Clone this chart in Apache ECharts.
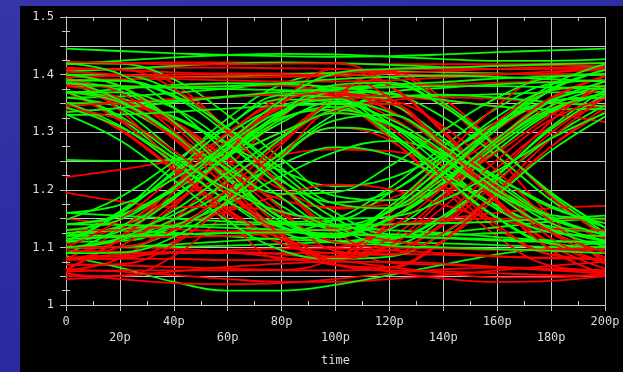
<!DOCTYPE html>
<html>
<head>
<meta charset="utf-8">
<script src="https://cdn.jsdelivr.net/npm/echarts@6/dist/echarts.min.js"></script>
<style>
html,body{margin:0;padding:0;width:623px;height:372px;overflow:hidden;
  background:linear-gradient(160deg,#3636a8 0%,#2b2ba3 50%,#24249c 100%);}
#chart{position:absolute;left:20px;top:6px;width:603px;height:366px;background:#000;}
</style>
</head>
<body>
<div id="chart"></div>
<script>
// sample times (ps)
const times = [0, 20, 40, 60, 80, 100, 120, 140, 160, 180, 200];
const xTickLabels = ['0','20p','40p','60p','80p','100p','120p','140p','160p','180p','200p'];
const yTickLabels = ['1','1.1','1.2','1.3','1.4','1.5'];

const greenTraces = [
[1.370,1.352,1.298,1.223,1.152,1.109,1.131,1.193,1.269,1.334,1.368],
[1.120,1.137,1.189,1.261,1.330,1.371,1.351,1.290,1.217,1.154,1.122],
[1.371,1.324,1.253,1.179,1.126,1.110,1.109,1.107,1.104,1.101,1.100],
[1.100,1.101,1.128,1.190,1.266,1.332,1.369,1.377,1.383,1.387,1.390],
[1.360,1.362,1.368,1.376,1.384,1.370,1.315,1.240,1.170,1.126,1.120],
[1.130,1.129,1.125,1.119,1.114,1.111,1.114,1.152,1.218,1.291,1.347],
[1.350,1.350,1.327,1.277,1.215,1.178,1.196,1.258,1.318,1.354,1.360],
[1.110,1.162,1.242,1.324,1.383,1.400,1.395,1.351,1.276,1.191,1.126],
[1.445,1.441,1.437,1.434,1.432,1.431,1.432,1.435,1.439,1.442,1.445],
[1.418,1.424,1.430,1.434,1.436,1.435,1.431,1.427,1.424,1.424,1.427],
[1.405,1.410,1.415,1.419,1.421,1.420,1.417,1.413,1.410,1.411,1.415],
[1.400,1.398,1.396,1.397,1.400,1.403,1.405,1.404,1.402,1.400,1.401],
[1.085,1.065,1.040,1.025,1.025,1.035,1.052,1.070,1.088,1.100,1.108],
[1.100,1.100,1.101,1.103,1.106,1.110,1.116,1.125,1.135,1.145,1.150],
[1.390,1.342,1.268,1.191,1.136,1.121,1.149,1.210,1.283,1.346,1.378],
[1.110,1.111,1.136,1.193,1.263,1.308,1.294,1.232,1.172,1.136,1.130],
[1.390,1.372,1.318,1.243,1.172,1.128,1.119,1.117,1.114,1.111,1.110],
[1.119,1.162,1.228,1.297,1.346,1.360,1.361,1.363,1.366,1.369,1.370],
[1.380,1.379,1.377,1.375,1.373,1.371,1.366,1.326,1.258,1.182,1.123],
[1.120,1.121,1.123,1.125,1.127,1.149,1.203,1.275,1.342,1.384,1.390],
[1.360,1.343,1.291,1.219,1.150,1.108,1.105,1.149,1.224,1.309,1.374],
[1.120,1.136,1.187,1.256,1.322,1.344,1.295,1.220,1.150,1.106,1.100],
[1.420,1.419,1.392,1.330,1.254,1.189,1.182,1.240,1.313,1.376,1.408],
[1.089,1.134,1.203,1.274,1.325,1.339,1.315,1.264,1.202,1.149,1.122],
[1.370,1.359,1.325,1.278,1.233,1.206,1.220,1.262,1.313,1.356,1.379],
[1.100,1.112,1.148,1.198,1.245,1.274,1.261,1.221,1.173,1.132,1.111],
[1.371,1.328,1.262,1.193,1.144,1.147,1.194,1.258,1.318,1.354,1.360],
[1.130,1.131,1.157,1.216,1.289,1.353,1.383,1.345,1.274,1.195,1.134],
[1.350,1.351,1.355,1.361,1.366,1.369,1.338,1.273,1.194,1.127,1.092],
[1.100,1.101,1.105,1.111,1.116,1.119,1.148,1.206,1.277,1.337,1.368],
[1.400,1.399,1.371,1.307,1.228,1.160,1.123,1.122,1.125,1.128,1.130],
[1.140,1.156,1.204,1.270,1.333,1.373,1.382,1.387,1.393,1.397,1.400],
[1.368,1.375,1.382,1.385,1.384,1.378,1.368,1.356,1.345,1.340,1.340],
[1.125,1.130,1.136,1.140,1.140,1.136,1.130,1.125,1.118,1.112,1.106],
[1.252,1.250,1.252,1.262,1.300,1.340,1.360,1.365,1.360,1.352,1.345],
[1.331,1.286,1.217,1.146,1.095,1.080,1.084,1.124,1.192,1.268,1.327],
[1.140,1.154,1.199,1.259,1.317,1.353,1.335,1.284,1.222,1.169,1.142],
[1.390,1.389,1.361,1.297,1.218,1.150,1.117,1.155,1.226,1.305,1.366],
[1.110,1.158,1.232,1.309,1.364,1.360,1.302,1.224,1.152,1.107,1.100],
[1.335,1.342,1.352,1.362,1.370,1.375,1.378,1.380,1.380,1.378,1.375],
[1.160,1.155,1.150,1.145,1.142,1.140,1.140,1.142,1.145,1.150,1.155],
[1.393,1.355,1.296,1.236,1.193,1.196,1.241,1.303,1.360,1.395,1.400],
[1.120,1.120,1.138,1.176,1.224,1.266,1.285,1.262,1.220,1.172,1.135],
[1.370,1.352,1.296,1.218,1.144,1.117,1.165,1.240,1.310,1.354,1.360],
[1.390,1.390,1.364,1.307,1.237,1.176,1.168,1.219,1.284,1.340,1.368],
[1.110,1.128,1.184,1.262,1.336,1.382,1.386,1.345,1.274,1.195,1.134],
[1.352,1.311,1.247,1.181,1.134,1.121,1.151,1.213,1.289,1.354,1.388],
[1.148,1.187,1.249,1.312,1.357,1.352,1.300,1.231,1.166,1.126,1.120],
[1.330,1.331,1.335,1.341,1.346,1.349,1.323,1.267,1.200,1.142,1.112],
[1.140,1.139,1.137,1.134,1.131,1.130,1.162,1.227,1.306,1.373,1.408],
[1.370,1.369,1.342,1.280,1.204,1.138,1.103,1.100,1.097,1.094,1.090],
[1.130,1.148,1.204,1.282,1.356,1.402,1.410,1.412,1.415,1.418,1.420],
[1.400,1.380,1.318,1.232,1.150,1.120,1.171,1.252,1.327,1.373,1.380],
[1.090,1.091,1.118,1.180,1.256,1.321,1.330,1.277,1.210,1.152,1.122],
[1.343,1.309,1.256,1.201,1.162,1.150,1.153,1.182,1.233,1.289,1.333],
[1.160,1.174,1.219,1.279,1.337,1.357,1.316,1.252,1.192,1.156,1.150],
[1.385,1.380,1.378,1.380,1.385,1.392,1.396,1.398,1.396,1.392,1.388],
[1.115,1.118,1.122,1.125,1.126,1.124,1.120,1.116,1.112,1.110,1.110],
[1.420,1.401,1.343,1.263,1.186,1.138,1.163,1.230,1.312,1.382,1.418],
[1.100,1.116,1.164,1.230,1.293,1.333,1.313,1.257,1.190,1.132,1.102]
];

const redTraces = [
[1.400,1.379,1.312,1.221,1.134,1.081,1.107,1.184,1.277,1.356,1.397],
[1.060,1.081,1.148,1.239,1.326,1.379,1.353,1.276,1.183,1.104,1.063],
[1.420,1.419,1.384,1.304,1.205,1.120,1.073,1.070,1.066,1.063,1.060],
[1.061,1.118,1.206,1.296,1.361,1.380,1.381,1.383,1.386,1.388,1.390],
[1.408,1.410,1.412,1.412,1.411,1.410,1.404,1.350,1.257,1.153,1.072],
[1.070,1.069,1.066,1.063,1.061,1.082,1.144,1.227,1.305,1.353,1.360],
[1.370,1.320,1.243,1.164,1.107,1.090,1.095,1.139,1.214,1.299,1.364],
[1.080,1.081,1.110,1.176,1.258,1.308,1.286,1.208,1.133,1.087,1.080],
[1.370,1.356,1.314,1.256,1.201,1.167,1.184,1.232,1.292,1.342,1.368],
[1.106,1.135,1.180,1.227,1.260,1.270,1.267,1.242,1.200,1.152,1.115],
[1.420,1.420,1.421,1.421,1.420,1.419,1.418,1.418,1.418,1.419,1.420],
[1.412,1.408,1.404,1.402,1.402,1.404,1.408,1.412,1.415,1.416,1.415],
[1.062,1.058,1.052,1.045,1.040,1.040,1.045,1.052,1.060,1.068,1.075],
[1.055,1.045,1.038,1.036,1.038,1.045,1.055,1.062,1.065,1.062,1.058],
[1.100,1.100,1.098,1.092,1.082,1.070,1.058,1.046,1.040,1.042,1.050],
[1.080,1.088,1.092,1.092,1.088,1.078,1.066,1.055,1.048,1.048,1.055],
[1.390,1.392,1.392,1.390,1.388,1.388,1.390,1.395,1.400,1.405,1.408],
[1.082,1.085,1.090,1.095,1.098,1.098,1.095,1.090,1.085,1.082,1.080],
[1.350,1.349,1.319,1.250,1.166,1.094,1.087,1.154,1.238,1.310,1.348],
[1.090,1.111,1.175,1.264,1.348,1.401,1.405,1.358,1.278,1.188,1.118],
[1.351,1.304,1.233,1.159,1.106,1.090,1.089,1.087,1.084,1.081,1.080],
[1.120,1.121,1.149,1.213,1.292,1.360,1.397,1.400,1.401,1.401,1.400],
[1.382,1.380,1.380,1.380,1.381,1.357,1.291,1.202,1.119,1.068,1.060],
[1.078,1.080,1.080,1.078,1.078,1.081,1.116,1.190,1.281,1.358,1.397],
[1.398,1.338,1.245,1.149,1.080,1.085,1.158,1.255,1.346,1.402,1.410],
[1.080,1.130,1.207,1.286,1.343,1.359,1.327,1.260,1.178,1.108,1.072],
[1.400,1.381,1.320,1.237,1.158,1.109,1.100,1.098,1.096,1.097,1.100],
[1.150,1.140,1.132,1.128,1.128,1.132,1.140,1.150,1.160,1.168,1.172],
[1.120,1.118,1.118,1.120,1.125,1.132,1.140,1.146,1.150,1.150,1.148],
[1.345,1.352,1.358,1.362,1.365,1.365,1.362,1.355,1.345,1.332,1.318],
[1.222,1.235,1.250,1.262,1.300,1.338,1.355,1.360,1.358,1.352,1.345],
[1.195,1.180,1.170,1.170,1.160,1.135,1.112,1.100,1.096,1.095,1.096],
[1.370,1.350,1.288,1.202,1.120,1.069,1.065,1.110,1.188,1.275,1.343],
[1.050,1.051,1.085,1.163,1.258,1.341,1.349,1.273,1.177,1.095,1.053],
[1.095,1.092,1.090,1.090,1.090,1.090,1.095,1.143,1.227,1.319,1.391],
[1.422,1.420,1.418,1.418,1.419,1.420,1.382,1.303,1.207,1.125,1.083],
[1.392,1.353,1.291,1.228,1.183,1.170,1.174,1.207,1.265,1.330,1.380],
[1.130,1.130,1.140,1.163,1.191,1.209,1.201,1.174,1.148,1.132,1.130],
[1.380,1.359,1.292,1.201,1.114,1.084,1.142,1.234,1.319,1.372,1.380],
[1.080,1.102,1.170,1.265,1.354,1.410,1.380,1.299,1.201,1.116,1.073],
[1.410,1.409,1.376,1.300,1.208,1.127,1.087,1.125,1.196,1.275,1.336],
[1.061,1.114,1.196,1.281,1.342,1.360,1.355,1.310,1.232,1.145,1.077],
[1.395,1.398,1.400,1.400,1.400,1.399,1.360,1.279,1.181,1.096,1.053],
[1.058,1.060,1.060,1.060,1.060,1.060,1.065,1.113,1.197,1.289,1.361],
[1.390,1.369,1.302,1.211,1.124,1.070,1.060,1.058,1.055,1.052,1.050],
[1.070,1.071,1.105,1.183,1.278,1.362,1.407,1.410,1.410,1.410,1.410],
[1.351,1.306,1.237,1.166,1.115,1.101,1.134,1.204,1.288,1.360,1.398],
[1.100,1.101,1.131,1.200,1.284,1.334,1.308,1.222,1.139,1.088,1.080],
[1.045,1.050,1.058,1.066,1.072,1.075,1.075,1.072,1.066,1.060,1.055],
[1.405,1.400,1.396,1.395,1.396,1.398,1.402,1.406,1.410,1.412,1.412],
[1.340,1.322,1.268,1.193,1.122,1.078,1.103,1.170,1.252,1.322,1.358],
[1.100,1.148,1.222,1.299,1.354,1.369,1.338,1.273,1.194,1.127,1.092]
];

const RED = '#ff0000';
const GREEN = '#00ff00';
const GRID = '#c4c4c4';
const TXT = '#dcdcdc';
const FONT = '"DejaVu Sans Mono", "Liberation Mono", monospace';

function mkSeries(trace, color) {
  return {
    type: 'line',
    xAxisIndex: 0, yAxisIndex: 0,
    data: times.map((t, i) => [t, trace[i]]),
    smooth: 0.4,
    symbol: 'none',
    silent: true,
    animation: false,
    lineStyle: { color: color, width: 1.8 }
  };
}

// interleave red and green traces so both colours show through
const series = [];
const n = Math.max(redTraces.length, greenTraces.length);
for (let i = 0; i < n; i++) {
  if (i < redTraces.length) series.push(mkSeries(redTraces[i], RED));
  if (i < greenTraces.length) series.push(mkSeries(greenTraces[i], GREEN));
}

const chart = echarts.init(document.getElementById('chart'), null, { renderer: 'canvas' });
chart.setOption({
  backgroundColor: '#000',
  animation: false,
  grid: { left: 46, top: 11, right: 18, bottom: 65, containLabel: false },
  xAxis: [
    {
      type: 'value', position: 'bottom', min: 0, max: 200, interval: 20,
      axisLine: { show: true, lineStyle: { color: GRID, width: 1 } },
      axisTick: { show: true, inside: false, length: 6, lineStyle: { color: GRID } },
      axisLabel: {
        color: TXT, fontFamily: FONT, fontSize: 12, margin: 9, lineHeight: 16,
        formatter: function (v) {
          const idx = Math.round(v / 20);
          const s = xTickLabels[idx];
          return idx % 2 ? '\n' + s : s;
        }
      },
      splitLine: { show: true, lineStyle: { color: GRID, width: 1 } },
      name: 'time', nameLocation: 'middle', nameGap: 50,
      nameTextStyle: { color: TXT, fontFamily: FONT, fontSize: 12 }
    },
    {
      type: 'value', position: 'bottom', min: 0, max: 200, interval: 10,
      axisLine: { show: false },
      axisTick: { show: true, inside: true, length: 4, lineStyle: { color: GRID } },
      axisLabel: { show: false }, splitLine: { show: false }
    },
    {
      type: 'value', position: 'top', min: 0, max: 200, interval: 10,
      axisLine: { show: true, lineStyle: { color: GRID, width: 1 } },
      axisTick: { show: true, inside: true, length: 4, lineStyle: { color: GRID } },
      axisLabel: { show: false }, splitLine: { show: false }
    }
  ],
  yAxis: [
    {
      type: 'value', position: 'left', min: 1, max: 1.5, interval: 0.05,
      axisLine: { show: true, lineStyle: { color: GRID, width: 1 } },
      axisTick: { show: true, inside: false, length: 6, lineStyle: { color: GRID } },
      axisLabel: {
        color: TXT, fontFamily: FONT, fontSize: 12, margin: 12,
        formatter: function (v) {
          const k = Math.round((v - 1) * 100);
          return k % 10 === 0 ? yTickLabels[k / 10] : '';
        }
      },
      splitLine: { show: true, lineStyle: { color: GRID, width: 1 } }
    },
    {
      type: 'value', position: 'left', min: 1, max: 1.5, interval: 0.025,
      axisLine: { show: false },
      axisTick: { show: true, inside: true, length: 4, lineStyle: { color: GRID } },
      axisLabel: { show: false }, splitLine: { show: false }
    },
    {
      type: 'value', position: 'right', min: 1, max: 1.5, interval: 0.025,
      axisLine: { show: true, lineStyle: { color: GRID, width: 1 } },
      axisTick: { show: true, inside: true, length: 4, lineStyle: { color: GRID } },
      axisLabel: { show: false }, splitLine: { show: false }
    }
  ],
  series: series
});
</script>
</body>
</html>
